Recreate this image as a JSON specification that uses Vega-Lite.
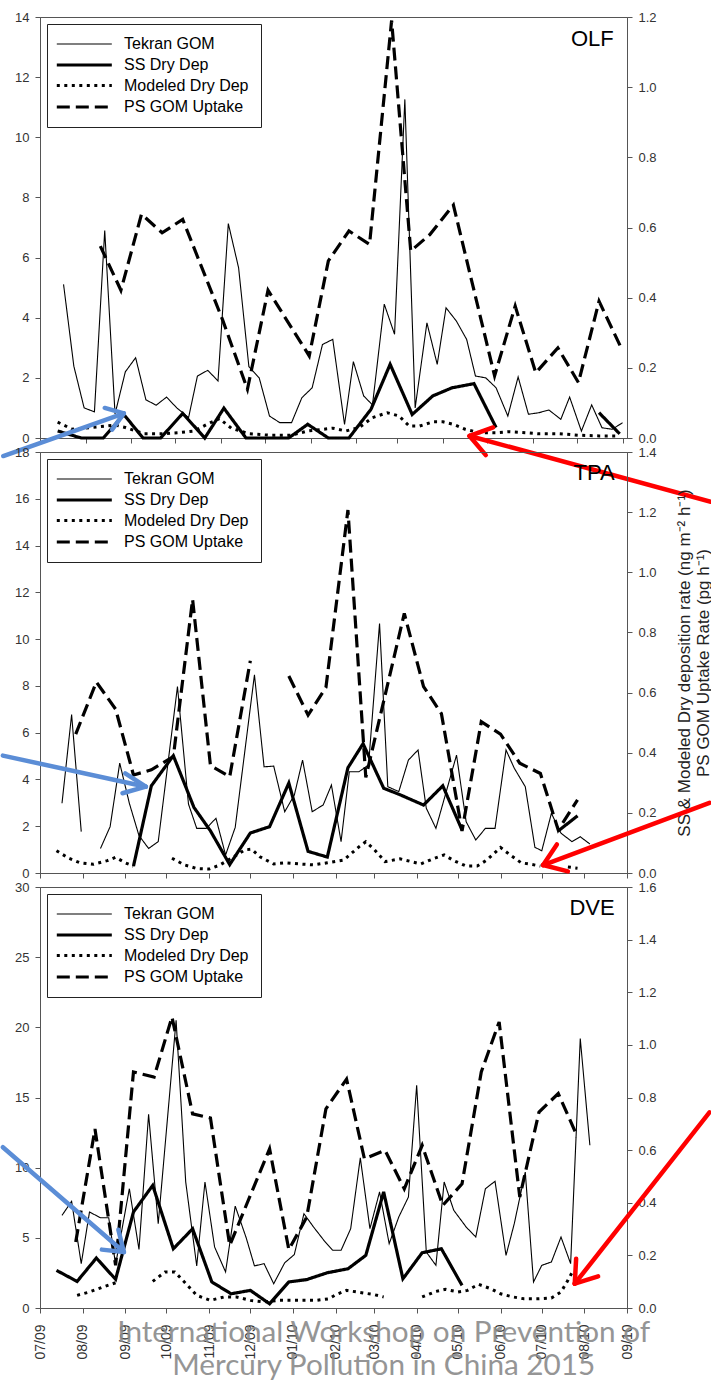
{
"$schema": "https://vega.github.io/schema/vega-lite/v6.json",
"padding": {"left": 0, "top": 10, "right": 0, "bottom": 0},
"background": "white",
"spacing": 14,
"bounds": "flush",
"config": {
  "font": "Liberation Sans",
  "view": {"stroke": "#555", "strokeWidth": 1},
  "axis": {"domainColor": "#555", "tickColor": "#555", "labelColor": "#333", "labelFont": "Liberation Sans", "labelFontSize": 13, "tickSize": 5, "labelPadding": 6, "grid": false, "labelFlush": false, "labelOverlap": false, "titleFont": "Liberation Sans", "titleColor": "#222", "titleFontWeight": "normal"}
},
"resolve": {"scale": {"x": "independent", "strokeDash": "independent", "strokeWidth": "independent", "color": "independent"}, "legend": {"strokeDash": "independent", "strokeWidth": "independent"}},
"datasets": {
"series": [
{"s":"OLF","k":"Tekran GOM","t":"2009-07-17","v":5.11,"g":1},
{"s":"OLF","k":"Tekran GOM","t":"2009-07-24","v":2.39,"g":1},
{"s":"OLF","k":"Tekran GOM","t":"2009-07-31","v":1.0,"g":1},
{"s":"OLF","k":"Tekran GOM","t":"2009-08-07","v":0.87,"g":1},
{"s":"OLF","k":"Tekran GOM","t":"2009-08-14","v":6.9,"g":1},
{"s":"OLF","k":"Tekran GOM","t":"2009-08-21","v":0.8,"g":1},
{"s":"OLF","k":"Tekran GOM","t":"2009-08-28","v":2.2,"g":1},
{"s":"OLF","k":"Tekran GOM","t":"2009-09-04","v":2.67,"g":1},
{"s":"OLF","k":"Tekran GOM","t":"2009-09-11","v":1.27,"g":1},
{"s":"OLF","k":"Tekran GOM","t":"2009-09-18","v":1.09,"g":1},
{"s":"OLF","k":"Tekran GOM","t":"2009-09-25","v":1.36,"g":1},
{"s":"OLF","k":"Tekran GOM","t":"2009-10-02","v":1.0,"g":1},
{"s":"OLF","k":"Tekran GOM","t":"2009-10-10","v":0.68,"g":1},
{"s":"OLF","k":"Tekran GOM","t":"2009-10-16","v":2.06,"g":1},
{"s":"OLF","k":"Tekran GOM","t":"2009-10-23","v":2.25,"g":1},
{"s":"OLF","k":"Tekran GOM","t":"2009-10-30","v":1.9,"g":1},
{"s":"OLF","k":"Tekran GOM","t":"2009-11-06","v":7.13,"g":1},
{"s":"OLF","k":"Tekran GOM","t":"2009-11-13","v":5.66,"g":1},
{"s":"OLF","k":"Tekran GOM","t":"2009-11-20","v":2.37,"g":1},
{"s":"OLF","k":"Tekran GOM","t":"2009-11-27","v":2.0,"g":1},
{"s":"OLF","k":"Tekran GOM","t":"2009-12-04","v":0.73,"g":1},
{"s":"OLF","k":"Tekran GOM","t":"2009-12-11","v":0.51,"g":1},
{"s":"OLF","k":"Tekran GOM","t":"2009-12-19","v":0.51,"g":1},
{"s":"OLF","k":"Tekran GOM","t":"2009-12-26","v":1.34,"g":1},
{"s":"OLF","k":"Tekran GOM","t":"2010-01-02","v":1.67,"g":1},
{"s":"OLF","k":"Tekran GOM","t":"2010-01-09","v":3.11,"g":1},
{"s":"OLF","k":"Tekran GOM","t":"2010-01-16","v":3.28,"g":1},
{"s":"OLF","k":"Tekran GOM","t":"2010-01-24","v":0.45,"g":1},
{"s":"OLF","k":"Tekran GOM","t":"2010-01-30","v":2.54,"g":1},
{"s":"OLF","k":"Tekran GOM","t":"2010-02-06","v":1.4,"g":1},
{"s":"OLF","k":"Tekran GOM","t":"2010-02-12","v":1.1,"g":1},
{"s":"OLF","k":"Tekran GOM","t":"2010-02-20","v":4.45,"g":1},
{"s":"OLF","k":"Tekran GOM","t":"2010-02-27","v":3.45,"g":1},
{"s":"OLF","k":"Tekran GOM","t":"2010-03-06","v":11.26,"g":1},
{"s":"OLF","k":"Tekran GOM","t":"2010-03-13","v":1.0,"g":1},
{"s":"OLF","k":"Tekran GOM","t":"2010-03-21","v":3.83,"g":1},
{"s":"OLF","k":"Tekran GOM","t":"2010-03-28","v":2.45,"g":1},
{"s":"OLF","k":"Tekran GOM","t":"2010-04-03","v":4.33,"g":1},
{"s":"OLF","k":"Tekran GOM","t":"2010-04-10","v":3.89,"g":1},
{"s":"OLF","k":"Tekran GOM","t":"2010-04-17","v":3.28,"g":1},
{"s":"OLF","k":"Tekran GOM","t":"2010-04-23","v":2.06,"g":1},
{"s":"OLF","k":"Tekran GOM","t":"2010-04-30","v":2.0,"g":1},
{"s":"OLF","k":"Tekran GOM","t":"2010-05-07","v":1.67,"g":1},
{"s":"OLF","k":"Tekran GOM","t":"2010-05-15","v":0.73,"g":1},
{"s":"OLF","k":"Tekran GOM","t":"2010-05-22","v":2.03,"g":1},
{"s":"OLF","k":"Tekran GOM","t":"2010-05-29","v":0.79,"g":1},
{"s":"OLF","k":"Tekran GOM","t":"2010-06-05","v":0.84,"g":1},
{"s":"OLF","k":"Tekran GOM","t":"2010-06-12","v":0.93,"g":1},
{"s":"OLF","k":"Tekran GOM","t":"2010-06-20","v":0.62,"g":1},
{"s":"OLF","k":"Tekran GOM","t":"2010-06-26","v":1.36,"g":1},
{"s":"OLF","k":"Tekran GOM","t":"2010-07-04","v":0.23,"g":1},
{"s":"OLF","k":"Tekran GOM","t":"2010-07-11","v":1.1,"g":1},
{"s":"OLF","k":"Tekran GOM","t":"2010-07-18","v":0.34,"g":1},
{"s":"OLF","k":"Tekran GOM","t":"2010-07-25","v":0.29,"g":1},
{"s":"OLF","k":"Tekran GOM","t":"2010-08-01","v":0.51,"g":1},
{"s":"OLF","k":"SS Dry Dep","t":"2009-07-13","v":0.02,"g":1},
{"s":"OLF","k":"SS Dry Dep","t":"2009-07-29","v":0,"g":1},
{"s":"OLF","k":"SS Dry Dep","t":"2009-08-13","v":0,"g":1},
{"s":"OLF","k":"SS Dry Dep","t":"2009-08-27","v":0.067,"g":1},
{"s":"OLF","k":"SS Dry Dep","t":"2009-09-09","v":0,"g":1},
{"s":"OLF","k":"SS Dry Dep","t":"2009-09-21","v":0,"g":1},
{"s":"OLF","k":"SS Dry Dep","t":"2009-10-06","v":0.07,"g":1},
{"s":"OLF","k":"SS Dry Dep","t":"2009-10-21","v":0,"g":1},
{"s":"OLF","k":"SS Dry Dep","t":"2009-11-03","v":0.085,"g":1},
{"s":"OLF","k":"SS Dry Dep","t":"2009-11-18","v":0,"g":1},
{"s":"OLF","k":"SS Dry Dep","t":"2009-12-03","v":0,"g":1},
{"s":"OLF","k":"SS Dry Dep","t":"2009-12-17","v":0,"g":1},
{"s":"OLF","k":"SS Dry Dep","t":"2009-12-30","v":0.039,"g":1},
{"s":"OLF","k":"SS Dry Dep","t":"2010-01-13","v":0,"g":1},
{"s":"OLF","k":"SS Dry Dep","t":"2010-01-27","v":0,"g":1},
{"s":"OLF","k":"SS Dry Dep","t":"2010-02-11","v":0.082,"g":1},
{"s":"OLF","k":"SS Dry Dep","t":"2010-02-24","v":0.21,"g":1},
{"s":"OLF","k":"SS Dry Dep","t":"2010-03-11","v":0.067,"g":1},
{"s":"OLF","k":"SS Dry Dep","t":"2010-03-25","v":0.12,"g":1},
{"s":"OLF","k":"SS Dry Dep","t":"2010-04-07","v":0.143,"g":1},
{"s":"OLF","k":"SS Dry Dep","t":"2010-04-22","v":0.155,"g":1},
{"s":"OLF","k":"SS Dry Dep","t":"2010-05-07","v":0.03,"g":1},
{"s":"OLF","k":"SS Dry Dep","t":"2010-07-16","v":0.072,"g":2},
{"s":"OLF","k":"SS Dry Dep","t":"2010-07-30","v":0.012,"g":2},
{"s":"OLF","k":"Modeled Dry Dep","t":"2009-07-13","v":0.045,"g":1},
{"s":"OLF","k":"Modeled Dry Dep","t":"2009-07-23","v":0.025,"g":1},
{"s":"OLF","k":"Modeled Dry Dep","t":"2009-08-05","v":0.03,"g":1},
{"s":"OLF","k":"Modeled Dry Dep","t":"2009-08-21","v":0.037,"g":1},
{"s":"OLF","k":"Modeled Dry Dep","t":"2009-08-28","v":0.03,"g":1},
{"s":"OLF","k":"Modeled Dry Dep","t":"2009-09-10","v":0.012,"g":1},
{"s":"OLF","k":"Modeled Dry Dep","t":"2009-09-22","v":0.012,"g":1},
{"s":"OLF","k":"Modeled Dry Dep","t":"2009-10-03","v":0.015,"g":1},
{"s":"OLF","k":"Modeled Dry Dep","t":"2009-10-14","v":0.02,"g":1},
{"s":"OLF","k":"Modeled Dry Dep","t":"2009-10-23","v":0.04,"g":1},
{"s":"OLF","k":"Modeled Dry Dep","t":"2009-10-31","v":0.055,"g":1},
{"s":"OLF","k":"Modeled Dry Dep","t":"2009-11-08","v":0.028,"g":1},
{"s":"OLF","k":"Modeled Dry Dep","t":"2009-11-20","v":0.012,"g":1},
{"s":"OLF","k":"Modeled Dry Dep","t":"2009-12-04","v":0.008,"g":1},
{"s":"OLF","k":"Modeled Dry Dep","t":"2009-12-19","v":0.008,"g":1},
{"s":"OLF","k":"Modeled Dry Dep","t":"2009-12-30","v":0.02,"g":1},
{"s":"OLF","k":"Modeled Dry Dep","t":"2010-01-16","v":0.028,"g":1},
{"s":"OLF","k":"Modeled Dry Dep","t":"2010-01-25","v":0.02,"g":1},
{"s":"OLF","k":"Modeled Dry Dep","t":"2010-02-03","v":0.03,"g":1},
{"s":"OLF","k":"Modeled Dry Dep","t":"2010-02-12","v":0.058,"g":1},
{"s":"OLF","k":"Modeled Dry Dep","t":"2010-02-22","v":0.072,"g":1},
{"s":"OLF","k":"Modeled Dry Dep","t":"2010-03-02","v":0.063,"g":1},
{"s":"OLF","k":"Modeled Dry Dep","t":"2010-03-09","v":0.034,"g":1},
{"s":"OLF","k":"Modeled Dry Dep","t":"2010-03-16","v":0.034,"g":1},
{"s":"OLF","k":"Modeled Dry Dep","t":"2010-03-25","v":0.046,"g":1},
{"s":"OLF","k":"Modeled Dry Dep","t":"2010-04-01","v":0.046,"g":1},
{"s":"OLF","k":"Modeled Dry Dep","t":"2010-04-08","v":0.039,"g":1},
{"s":"OLF","k":"Modeled Dry Dep","t":"2010-04-16","v":0.025,"g":1},
{"s":"OLF","k":"Modeled Dry Dep","t":"2010-04-26","v":0.015,"g":1},
{"s":"OLF","k":"Modeled Dry Dep","t":"2010-05-07","v":0.015,"g":1},
{"s":"OLF","k":"Modeled Dry Dep","t":"2010-05-16","v":0.018,"g":1},
{"s":"OLF","k":"Modeled Dry Dep","t":"2010-05-27","v":0.015,"g":1},
{"s":"OLF","k":"Modeled Dry Dep","t":"2010-06-05","v":0.012,"g":1},
{"s":"OLF","k":"Modeled Dry Dep","t":"2010-06-19","v":0.012,"g":1},
{"s":"OLF","k":"Modeled Dry Dep","t":"2010-07-02","v":0.008,"g":1},
{"s":"OLF","k":"Modeled Dry Dep","t":"2010-07-16","v":0.006,"g":1},
{"s":"OLF","k":"Modeled Dry Dep","t":"2010-07-30","v":0.006,"g":1},
{"s":"OLF","k":"PS GOM Uptake","t":"2009-08-11","v":0.547,"g":1},
{"s":"OLF","k":"PS GOM Uptake","t":"2009-08-25","v":0.421,"g":1},
{"s":"OLF","k":"PS GOM Uptake","t":"2009-09-08","v":0.638,"g":1},
{"s":"OLF","k":"PS GOM Uptake","t":"2009-09-22","v":0.585,"g":1},
{"s":"OLF","k":"PS GOM Uptake","t":"2009-10-06","v":0.623,"g":1},
{"s":"OLF","k":"PS GOM Uptake","t":"2009-11-02","v":0.338,"g":1},
{"s":"OLF","k":"PS GOM Uptake","t":"2009-11-19","v":0.139,"g":1},
{"s":"OLF","k":"PS GOM Uptake","t":"2009-12-03","v":0.421,"g":1},
{"s":"OLF","k":"PS GOM Uptake","t":"2009-12-31","v":0.234,"g":1},
{"s":"OLF","k":"PS GOM Uptake","t":"2010-01-13","v":0.505,"g":1},
{"s":"OLF","k":"PS GOM Uptake","t":"2010-01-27","v":0.59,"g":1},
{"s":"OLF","k":"PS GOM Uptake","t":"2010-02-10","v":0.552,"g":1},
{"s":"OLF","k":"PS GOM Uptake","t":"2010-02-25","v":1.19,"g":1},
{"s":"OLF","k":"PS GOM Uptake","t":"2010-03-10","v":0.533,"g":1},
{"s":"OLF","k":"PS GOM Uptake","t":"2010-03-23","v":0.58,"g":1},
{"s":"OLF","k":"PS GOM Uptake","t":"2010-04-08","v":0.664,"g":1},
{"s":"OLF","k":"PS GOM Uptake","t":"2010-05-06","v":0.177,"g":1},
{"s":"OLF","k":"PS GOM Uptake","t":"2010-05-20","v":0.376,"g":1},
{"s":"OLF","k":"PS GOM Uptake","t":"2010-06-03","v":0.186,"g":1},
{"s":"OLF","k":"PS GOM Uptake","t":"2010-06-18","v":0.257,"g":1},
{"s":"OLF","k":"PS GOM Uptake","t":"2010-07-02","v":0.158,"g":1},
{"s":"OLF","k":"PS GOM Uptake","t":"2010-07-16","v":0.39,"g":1},
{"s":"OLF","k":"PS GOM Uptake","t":"2010-07-31","v":0.257,"g":1},
{"s":"TPA","k":"Tekran GOM","t":"2009-07-17","v":2.98,"g":1},
{"s":"TPA","k":"Tekran GOM","t":"2009-07-24","v":6.77,"g":1},
{"s":"TPA","k":"Tekran GOM","t":"2009-07-31","v":1.77,"g":1},
{"s":"TPA","k":"Tekran GOM","t":"2009-08-14","v":1.05,"g":2},
{"s":"TPA","k":"Tekran GOM","t":"2009-08-21","v":1.98,"g":2},
{"s":"TPA","k":"Tekran GOM","t":"2009-08-28","v":4.7,"g":2},
{"s":"TPA","k":"Tekran GOM","t":"2009-09-04","v":2.98,"g":2},
{"s":"TPA","k":"Tekran GOM","t":"2009-09-11","v":1.6,"g":2},
{"s":"TPA","k":"Tekran GOM","t":"2009-09-18","v":1.05,"g":2},
{"s":"TPA","k":"Tekran GOM","t":"2009-09-25","v":1.34,"g":2},
{"s":"TPA","k":"Tekran GOM","t":"2009-10-09","v":7.97,"g":2},
{"s":"TPA","k":"Tekran GOM","t":"2009-10-17","v":2.95,"g":2},
{"s":"TPA","k":"Tekran GOM","t":"2009-10-23","v":1.91,"g":2},
{"s":"TPA","k":"Tekran GOM","t":"2009-10-30","v":1.91,"g":2},
{"s":"TPA","k":"Tekran GOM","t":"2009-11-06","v":2.34,"g":2},
{"s":"TPA","k":"Tekran GOM","t":"2009-11-13","v":0.77,"g":2},
{"s":"TPA","k":"Tekran GOM","t":"2009-11-20","v":1.95,"g":2},
{"s":"TPA","k":"Tekran GOM","t":"2009-12-04","v":8.47,"g":2},
{"s":"TPA","k":"Tekran GOM","t":"2009-12-11","v":4.54,"g":2},
{"s":"TPA","k":"Tekran GOM","t":"2009-12-18","v":4.57,"g":2},
{"s":"TPA","k":"Tekran GOM","t":"2009-12-26","v":2.62,"g":2},
{"s":"TPA","k":"Tekran GOM","t":"2010-01-02","v":3.33,"g":2},
{"s":"TPA","k":"Tekran GOM","t":"2010-01-08","v":4.83,"g":2},
{"s":"TPA","k":"Tekran GOM","t":"2010-01-15","v":2.62,"g":2},
{"s":"TPA","k":"Tekran GOM","t":"2010-01-23","v":2.91,"g":2},
{"s":"TPA","k":"Tekran GOM","t":"2010-01-29","v":3.76,"g":2},
{"s":"TPA","k":"Tekran GOM","t":"2010-02-05","v":1.34,"g":2},
{"s":"TPA","k":"Tekran GOM","t":"2010-02-11","v":4.33,"g":2},
{"s":"TPA","k":"Tekran GOM","t":"2010-02-18","v":4.33,"g":2},
{"s":"TPA","k":"Tekran GOM","t":"2010-02-25","v":4.62,"g":2},
{"s":"TPA","k":"Tekran GOM","t":"2010-03-05","v":10.67,"g":2},
{"s":"TPA","k":"Tekran GOM","t":"2010-03-11","v":3.69,"g":2},
{"s":"TPA","k":"Tekran GOM","t":"2010-03-19","v":3.48,"g":2},
{"s":"TPA","k":"Tekran GOM","t":"2010-03-26","v":4.83,"g":2},
{"s":"TPA","k":"Tekran GOM","t":"2010-04-02","v":5.26,"g":2},
{"s":"TPA","k":"Tekran GOM","t":"2010-04-08","v":2.77,"g":2},
{"s":"TPA","k":"Tekran GOM","t":"2010-04-15","v":1.91,"g":2},
{"s":"TPA","k":"Tekran GOM","t":"2010-04-30","v":5.04,"g":2},
{"s":"TPA","k":"Tekran GOM","t":"2010-05-07","v":2.19,"g":2},
{"s":"TPA","k":"Tekran GOM","t":"2010-05-14","v":1.41,"g":2},
{"s":"TPA","k":"Tekran GOM","t":"2010-05-21","v":1.91,"g":2},
{"s":"TPA","k":"Tekran GOM","t":"2010-05-28","v":1.91,"g":2},
{"s":"TPA","k":"Tekran GOM","t":"2010-06-05","v":5.26,"g":2},
{"s":"TPA","k":"Tekran GOM","t":"2010-06-11","v":4.48,"g":2},
{"s":"TPA","k":"Tekran GOM","t":"2010-06-19","v":3.69,"g":2},
{"s":"TPA","k":"Tekran GOM","t":"2010-06-26","v":1.1,"g":2},
{"s":"TPA","k":"Tekran GOM","t":"2010-07-01","v":0.95,"g":2},
{"s":"TPA","k":"Tekran GOM","t":"2010-07-08","v":2.55,"g":2},
{"s":"TPA","k":"Tekran GOM","t":"2010-07-15","v":1.7,"g":2},
{"s":"TPA","k":"Tekran GOM","t":"2010-07-23","v":1.34,"g":2},
{"s":"TPA","k":"Tekran GOM","t":"2010-07-29","v":1.55,"g":2},
{"s":"TPA","k":"Tekran GOM","t":"2010-08-05","v":1.24,"g":2},
{"s":"TPA","k":"SS Dry Dep","t":"2009-09-07","v":0.023,"g":1},
{"s":"TPA","k":"SS Dry Dep","t":"2009-09-20","v":0.29,"g":1},
{"s":"TPA","k":"SS Dry Dep","t":"2009-10-06","v":0.39,"g":1},
{"s":"TPA","k":"SS Dry Dep","t":"2009-10-21","v":0.218,"g":1},
{"s":"TPA","k":"SS Dry Dep","t":"2009-11-02","v":0.14,"g":1},
{"s":"TPA","k":"SS Dry Dep","t":"2009-11-16","v":0.028,"g":1},
{"s":"TPA","k":"SS Dry Dep","t":"2009-12-01","v":0.133,"g":1},
{"s":"TPA","k":"SS Dry Dep","t":"2009-12-15","v":0.154,"g":1},
{"s":"TPA","k":"SS Dry Dep","t":"2009-12-29","v":0.299,"g":1},
{"s":"TPA","k":"SS Dry Dep","t":"2010-01-12","v":0.072,"g":1},
{"s":"TPA","k":"SS Dry Dep","t":"2010-01-26","v":0.053,"g":1},
{"s":"TPA","k":"SS Dry Dep","t":"2010-02-10","v":0.35,"g":1},
{"s":"TPA","k":"SS Dry Dep","t":"2010-02-21","v":0.43,"g":1},
{"s":"TPA","k":"SS Dry Dep","t":"2010-03-08","v":0.282,"g":1},
{"s":"TPA","k":"SS Dry Dep","t":"2010-03-20","v":0.26,"g":1},
{"s":"TPA","k":"SS Dry Dep","t":"2010-04-06","v":0.226,"g":1},
{"s":"TPA","k":"SS Dry Dep","t":"2010-04-20","v":0.29,"g":1},
{"s":"TPA","k":"SS Dry Dep","t":"2010-05-04","v":0.143,"g":1},
{"s":"TPA","k":"SS Dry Dep","t":"2010-07-13","v":0.14,"g":2},
{"s":"TPA","k":"SS Dry Dep","t":"2010-07-27","v":0.19,"g":2},
{"s":"TPA","k":"Modeled Dry Dep","t":"2009-07-13","v":0.074,"g":1},
{"s":"TPA","k":"Modeled Dry Dep","t":"2009-07-22","v":0.049,"g":1},
{"s":"TPA","k":"Modeled Dry Dep","t":"2009-07-30","v":0.034,"g":1},
{"s":"TPA","k":"Modeled Dry Dep","t":"2009-08-09","v":0.029,"g":1},
{"s":"TPA","k":"Modeled Dry Dep","t":"2009-08-19","v":0.041,"g":1},
{"s":"TPA","k":"Modeled Dry Dep","t":"2009-08-25","v":0.052,"g":1},
{"s":"TPA","k":"Modeled Dry Dep","t":"2009-09-01","v":0.034,"g":1},
{"s":"TPA","k":"Modeled Dry Dep","t":"2009-09-07","v":0.023,"g":1},
{"s":"TPA","k":"Modeled Dry Dep","t":"2009-10-05","v":0.049,"g":2},
{"s":"TPA","k":"Modeled Dry Dep","t":"2009-10-14","v":0.027,"g":2},
{"s":"TPA","k":"Modeled Dry Dep","t":"2009-10-23","v":0.015,"g":2},
{"s":"TPA","k":"Modeled Dry Dep","t":"2009-11-01","v":0.013,"g":2},
{"s":"TPA","k":"Modeled Dry Dep","t":"2009-11-09","v":0.027,"g":2},
{"s":"TPA","k":"Modeled Dry Dep","t":"2009-11-19","v":0.054,"g":2},
{"s":"TPA","k":"Modeled Dry Dep","t":"2009-11-27","v":0.077,"g":2},
{"s":"TPA","k":"Modeled Dry Dep","t":"2009-12-02","v":0.079,"g":2},
{"s":"TPA","k":"Modeled Dry Dep","t":"2009-12-08","v":0.054,"g":2},
{"s":"TPA","k":"Modeled Dry Dep","t":"2009-12-18","v":0.03,"g":2},
{"s":"TPA","k":"Modeled Dry Dep","t":"2009-12-27","v":0.034,"g":2},
{"s":"TPA","k":"Modeled Dry Dep","t":"2010-01-06","v":0.03,"g":2},
{"s":"TPA","k":"Modeled Dry Dep","t":"2010-01-16","v":0.027,"g":2},
{"s":"TPA","k":"Modeled Dry Dep","t":"2010-01-26","v":0.034,"g":2},
{"s":"TPA","k":"Modeled Dry Dep","t":"2010-02-07","v":0.043,"g":2},
{"s":"TPA","k":"Modeled Dry Dep","t":"2010-02-18","v":0.087,"g":2},
{"s":"TPA","k":"Modeled Dry Dep","t":"2010-02-23","v":0.104,"g":2},
{"s":"TPA","k":"Modeled Dry Dep","t":"2010-03-01","v":0.079,"g":2},
{"s":"TPA","k":"Modeled Dry Dep","t":"2010-03-09","v":0.038,"g":2},
{"s":"TPA","k":"Modeled Dry Dep","t":"2010-03-20","v":0.047,"g":2},
{"s":"TPA","k":"Modeled Dry Dep","t":"2010-04-04","v":0.03,"g":2},
{"s":"TPA","k":"Modeled Dry Dep","t":"2010-04-14","v":0.049,"g":2},
{"s":"TPA","k":"Modeled Dry Dep","t":"2010-04-21","v":0.06,"g":2},
{"s":"TPA","k":"Modeled Dry Dep","t":"2010-04-28","v":0.041,"g":2},
{"s":"TPA","k":"Modeled Dry Dep","t":"2010-05-07","v":0.023,"g":2},
{"s":"TPA","k":"Modeled Dry Dep","t":"2010-05-15","v":0.023,"g":2},
{"s":"TPA","k":"Modeled Dry Dep","t":"2010-05-22","v":0.043,"g":2},
{"s":"TPA","k":"Modeled Dry Dep","t":"2010-06-01","v":0.085,"g":2},
{"s":"TPA","k":"Modeled Dry Dep","t":"2010-06-08","v":0.06,"g":2},
{"s":"TPA","k":"Modeled Dry Dep","t":"2010-06-16","v":0.034,"g":2},
{"s":"TPA","k":"Modeled Dry Dep","t":"2010-06-23","v":0.029,"g":2},
{"s":"TPA","k":"Modeled Dry Dep","t":"2010-06-30","v":0.023,"g":2},
{"s":"TPA","k":"Modeled Dry Dep","t":"2010-07-20","v":0.02,"g":3},
{"s":"TPA","k":"Modeled Dry Dep","t":"2010-07-27","v":0.016,"g":3},
{"s":"TPA","k":"PS GOM Uptake","t":"2009-07-27","v":0.462,"g":1},
{"s":"TPA","k":"PS GOM Uptake","t":"2009-08-11","v":0.635,"g":1},
{"s":"TPA","k":"PS GOM Uptake","t":"2009-08-25","v":0.545,"g":1},
{"s":"TPA","k":"PS GOM Uptake","t":"2009-09-07","v":0.326,"g":1},
{"s":"TPA","k":"PS GOM Uptake","t":"2009-09-20","v":0.343,"g":1},
{"s":"TPA","k":"PS GOM Uptake","t":"2009-10-06","v":0.387,"g":1},
{"s":"TPA","k":"PS GOM Uptake","t":"2009-10-20","v":0.91,"g":1},
{"s":"TPA","k":"PS GOM Uptake","t":"2009-11-02","v":0.357,"g":1},
{"s":"TPA","k":"PS GOM Uptake","t":"2009-11-16","v":0.32,"g":1},
{"s":"TPA","k":"PS GOM Uptake","t":"2009-12-01","v":0.706,"g":1},
{"s":"TPA","k":"PS GOM Uptake","t":"2009-12-29","v":0.655,"g":2},
{"s":"TPA","k":"PS GOM Uptake","t":"2010-01-12","v":0.525,"g":2},
{"s":"TPA","k":"PS GOM Uptake","t":"2010-01-25","v":0.617,"g":2},
{"s":"TPA","k":"PS GOM Uptake","t":"2010-02-10","v":1.207,"g":2},
{"s":"TPA","k":"PS GOM Uptake","t":"2010-02-23","v":0.318,"g":2},
{"s":"TPA","k":"PS GOM Uptake","t":"2010-03-23","v":0.863,"g":2},
{"s":"TPA","k":"PS GOM Uptake","t":"2010-04-06","v":0.62,"g":2},
{"s":"TPA","k":"PS GOM Uptake","t":"2010-04-19","v":0.53,"g":2},
{"s":"TPA","k":"PS GOM Uptake","t":"2010-05-04","v":0.14,"g":2},
{"s":"TPA","k":"PS GOM Uptake","t":"2010-05-18","v":0.503,"g":2},
{"s":"TPA","k":"PS GOM Uptake","t":"2010-06-01","v":0.462,"g":2},
{"s":"TPA","k":"PS GOM Uptake","t":"2010-06-15","v":0.365,"g":2},
{"s":"TPA","k":"PS GOM Uptake","t":"2010-06-30","v":0.331,"g":2},
{"s":"TPA","k":"PS GOM Uptake","t":"2010-07-13","v":0.143,"g":2},
{"s":"TPA","k":"PS GOM Uptake","t":"2010-07-27","v":0.243,"g":2},
{"s":"DVE","k":"Tekran GOM","t":"2009-07-17","v":6.6,"g":1},
{"s":"DVE","k":"Tekran GOM","t":"2009-07-24","v":7.6,"g":1},
{"s":"DVE","k":"Tekran GOM","t":"2009-07-31","v":3.16,"g":1},
{"s":"DVE","k":"Tekran GOM","t":"2009-08-06","v":6.84,"g":1},
{"s":"DVE","k":"Tekran GOM","t":"2009-08-14","v":6.43,"g":1},
{"s":"DVE","k":"Tekran GOM","t":"2009-08-20","v":6.43,"g":1},
{"s":"DVE","k":"Tekran GOM","t":"2009-08-25","v":3.1,"g":1},
{"s":"DVE","k":"Tekran GOM","t":"2009-09-04","v":8.5,"g":1},
{"s":"DVE","k":"Tekran GOM","t":"2009-09-11","v":4.17,"g":1},
{"s":"DVE","k":"Tekran GOM","t":"2009-09-18","v":13.8,"g":1},
{"s":"DVE","k":"Tekran GOM","t":"2009-09-25","v":6.0,"g":1},
{"s":"DVE","k":"Tekran GOM","t":"2009-10-08","v":20.5,"g":1},
{"s":"DVE","k":"Tekran GOM","t":"2009-10-15","v":8.98,"g":1},
{"s":"DVE","k":"Tekran GOM","t":"2009-10-23","v":3.0,"g":1},
{"s":"DVE","k":"Tekran GOM","t":"2009-10-29","v":8.98,"g":1},
{"s":"DVE","k":"Tekran GOM","t":"2009-11-05","v":4.35,"g":1},
{"s":"DVE","k":"Tekran GOM","t":"2009-11-13","v":2.57,"g":1},
{"s":"DVE","k":"Tekran GOM","t":"2009-11-20","v":7.26,"g":1},
{"s":"DVE","k":"Tekran GOM","t":"2009-11-28","v":5.0,"g":1},
{"s":"DVE","k":"Tekran GOM","t":"2009-12-04","v":3.0,"g":1},
{"s":"DVE","k":"Tekran GOM","t":"2009-12-11","v":3.16,"g":1},
{"s":"DVE","k":"Tekran GOM","t":"2009-12-18","v":1.73,"g":1},
{"s":"DVE","k":"Tekran GOM","t":"2009-12-26","v":3.22,"g":1},
{"s":"DVE","k":"Tekran GOM","t":"2010-01-02","v":3.81,"g":1},
{"s":"DVE","k":"Tekran GOM","t":"2010-01-09","v":6.72,"g":1},
{"s":"DVE","k":"Tekran GOM","t":"2010-01-16","v":5.77,"g":1},
{"s":"DVE","k":"Tekran GOM","t":"2010-01-24","v":4.76,"g":1},
{"s":"DVE","k":"Tekran GOM","t":"2010-01-30","v":4.11,"g":1},
{"s":"DVE","k":"Tekran GOM","t":"2010-02-05","v":4.11,"g":1},
{"s":"DVE","k":"Tekran GOM","t":"2010-02-12","v":5.65,"g":1},
{"s":"DVE","k":"Tekran GOM","t":"2010-02-19","v":10.7,"g":1},
{"s":"DVE","k":"Tekran GOM","t":"2010-02-26","v":5.65,"g":1},
{"s":"DVE","k":"Tekran GOM","t":"2010-03-05","v":8.27,"g":1},
{"s":"DVE","k":"Tekran GOM","t":"2010-03-12","v":4.58,"g":1},
{"s":"DVE","k":"Tekran GOM","t":"2010-03-19","v":6.49,"g":1},
{"s":"DVE","k":"Tekran GOM","t":"2010-03-26","v":7.91,"g":1},
{"s":"DVE","k":"Tekran GOM","t":"2010-04-01","v":15.87,"g":1},
{"s":"DVE","k":"Tekran GOM","t":"2010-04-08","v":3.99,"g":1},
{"s":"DVE","k":"Tekran GOM","t":"2010-04-15","v":3.04,"g":1},
{"s":"DVE","k":"Tekran GOM","t":"2010-04-21","v":8.98,"g":1},
{"s":"DVE","k":"Tekran GOM","t":"2010-04-28","v":6.96,"g":1},
{"s":"DVE","k":"Tekran GOM","t":"2010-05-07","v":5.77,"g":1},
{"s":"DVE","k":"Tekran GOM","t":"2010-05-14","v":5.06,"g":1},
{"s":"DVE","k":"Tekran GOM","t":"2010-05-21","v":8.5,"g":1},
{"s":"DVE","k":"Tekran GOM","t":"2010-05-28","v":9.03,"g":1},
{"s":"DVE","k":"Tekran GOM","t":"2010-06-05","v":3.75,"g":1},
{"s":"DVE","k":"Tekran GOM","t":"2010-06-11","v":6.01,"g":1},
{"s":"DVE","k":"Tekran GOM","t":"2010-06-19","v":9.69,"g":1},
{"s":"DVE","k":"Tekran GOM","t":"2010-06-25","v":1.85,"g":1},
{"s":"DVE","k":"Tekran GOM","t":"2010-07-01","v":3.04,"g":1},
{"s":"DVE","k":"Tekran GOM","t":"2010-07-08","v":3.28,"g":1},
{"s":"DVE","k":"Tekran GOM","t":"2010-07-15","v":5.06,"g":1},
{"s":"DVE","k":"Tekran GOM","t":"2010-07-22","v":3.16,"g":1},
{"s":"DVE","k":"Tekran GOM","t":"2010-07-29","v":19.2,"g":1},
{"s":"DVE","k":"Tekran GOM","t":"2010-08-05","v":11.6,"g":1},
{"s":"DVE","k":"SS Dry Dep","t":"2009-07-13","v":0.143,"g":1},
{"s":"DVE","k":"SS Dry Dep","t":"2009-07-28","v":0.101,"g":1},
{"s":"DVE","k":"SS Dry Dep","t":"2009-08-11","v":0.19,"g":1},
{"s":"DVE","k":"SS Dry Dep","t":"2009-08-25","v":0.109,"g":1},
{"s":"DVE","k":"SS Dry Dep","t":"2009-09-07","v":0.365,"g":1},
{"s":"DVE","k":"SS Dry Dep","t":"2009-09-21","v":0.466,"g":1},
{"s":"DVE","k":"SS Dry Dep","t":"2009-10-06","v":0.225,"g":1},
{"s":"DVE","k":"SS Dry Dep","t":"2009-10-20","v":0.301,"g":1},
{"s":"DVE","k":"SS Dry Dep","t":"2009-11-03","v":0.099,"g":1},
{"s":"DVE","k":"SS Dry Dep","t":"2009-11-17","v":0.054,"g":1},
{"s":"DVE","k":"SS Dry Dep","t":"2009-12-01","v":0.067,"g":1},
{"s":"DVE","k":"SS Dry Dep","t":"2009-12-15","v":0.016,"g":1},
{"s":"DVE","k":"SS Dry Dep","t":"2009-12-29","v":0.099,"g":1},
{"s":"DVE","k":"SS Dry Dep","t":"2010-01-11","v":0.108,"g":1},
{"s":"DVE","k":"SS Dry Dep","t":"2010-01-26","v":0.134,"g":1},
{"s":"DVE","k":"SS Dry Dep","t":"2010-02-10","v":0.149,"g":1},
{"s":"DVE","k":"SS Dry Dep","t":"2010-02-23","v":0.2,"g":1},
{"s":"DVE","k":"SS Dry Dep","t":"2010-03-08","v":0.441,"g":1},
{"s":"DVE","k":"SS Dry Dep","t":"2010-03-22","v":0.111,"g":1},
{"s":"DVE","k":"SS Dry Dep","t":"2010-04-05","v":0.21,"g":1},
{"s":"DVE","k":"SS Dry Dep","t":"2010-04-19","v":0.225,"g":1},
{"s":"DVE","k":"SS Dry Dep","t":"2010-05-04","v":0.086,"g":1},
{"s":"DVE","k":"Modeled Dry Dep","t":"2009-07-28","v":0.048,"g":1},
{"s":"DVE","k":"Modeled Dry Dep","t":"2009-08-06","v":0.061,"g":1},
{"s":"DVE","k":"Modeled Dry Dep","t":"2009-08-16","v":0.08,"g":1},
{"s":"DVE","k":"Modeled Dry Dep","t":"2009-08-25","v":0.096,"g":1},
{"s":"DVE","k":"Modeled Dry Dep","t":"2009-09-21","v":0.101,"g":2},
{"s":"DVE","k":"Modeled Dry Dep","t":"2009-09-30","v":0.137,"g":2},
{"s":"DVE","k":"Modeled Dry Dep","t":"2009-10-07","v":0.137,"g":2},
{"s":"DVE","k":"Modeled Dry Dep","t":"2009-10-14","v":0.099,"g":2},
{"s":"DVE","k":"Modeled Dry Dep","t":"2009-10-23","v":0.048,"g":2},
{"s":"DVE","k":"Modeled Dry Dep","t":"2009-11-02","v":0.029,"g":2},
{"s":"DVE","k":"Modeled Dry Dep","t":"2009-11-12","v":0.042,"g":2},
{"s":"DVE","k":"Modeled Dry Dep","t":"2009-11-21","v":0.042,"g":2},
{"s":"DVE","k":"Modeled Dry Dep","t":"2009-12-01","v":0.029,"g":2},
{"s":"DVE","k":"Modeled Dry Dep","t":"2009-12-11","v":0.023,"g":2},
{"s":"DVE","k":"Modeled Dry Dep","t":"2009-12-21","v":0.029,"g":2},
{"s":"DVE","k":"Modeled Dry Dep","t":"2009-12-30","v":0.029,"g":2},
{"s":"DVE","k":"Modeled Dry Dep","t":"2010-01-09","v":0.029,"g":2},
{"s":"DVE","k":"Modeled Dry Dep","t":"2010-01-18","v":0.029,"g":2},
{"s":"DVE","k":"Modeled Dry Dep","t":"2010-01-27","v":0.035,"g":2},
{"s":"DVE","k":"Modeled Dry Dep","t":"2010-02-01","v":0.05,"g":2},
{"s":"DVE","k":"Modeled Dry Dep","t":"2010-02-09","v":0.067,"g":2},
{"s":"DVE","k":"Modeled Dry Dep","t":"2010-02-20","v":0.058,"g":2},
{"s":"DVE","k":"Modeled Dry Dep","t":"2010-03-01","v":0.051,"g":2},
{"s":"DVE","k":"Modeled Dry Dep","t":"2010-03-08","v":0.042,"g":2},
{"s":"DVE","k":"Modeled Dry Dep","t":"2010-04-05","v":0.042,"g":3},
{"s":"DVE","k":"Modeled Dry Dep","t":"2010-04-15","v":0.063,"g":3},
{"s":"DVE","k":"Modeled Dry Dep","t":"2010-04-22","v":0.071,"g":3},
{"s":"DVE","k":"Modeled Dry Dep","t":"2010-05-01","v":0.061,"g":3},
{"s":"DVE","k":"Modeled Dry Dep","t":"2010-05-08","v":0.067,"g":3},
{"s":"DVE","k":"Modeled Dry Dep","t":"2010-05-16","v":0.09,"g":3},
{"s":"DVE","k":"Modeled Dry Dep","t":"2010-05-25","v":0.073,"g":3},
{"s":"DVE","k":"Modeled Dry Dep","t":"2010-06-01","v":0.054,"g":3},
{"s":"DVE","k":"Modeled Dry Dep","t":"2010-06-10","v":0.042,"g":3},
{"s":"DVE","k":"Modeled Dry Dep","t":"2010-06-18","v":0.035,"g":3},
{"s":"DVE","k":"Modeled Dry Dep","t":"2010-06-28","v":0.035,"g":3},
{"s":"DVE","k":"Modeled Dry Dep","t":"2010-07-08","v":0.038,"g":3},
{"s":"DVE","k":"Modeled Dry Dep","t":"2010-07-15","v":0.061,"g":3},
{"s":"DVE","k":"Modeled Dry Dep","t":"2010-07-20","v":0.105,"g":3},
{"s":"DVE","k":"Modeled Dry Dep","t":"2010-07-24","v":0.145,"g":3},
{"s":"DVE","k":"PS GOM Uptake","t":"2009-07-27","v":0.251,"g":1},
{"s":"DVE","k":"PS GOM Uptake","t":"2009-08-10","v":0.68,"g":1},
{"s":"DVE","k":"PS GOM Uptake","t":"2009-08-25","v":0.162,"g":1},
{"s":"DVE","k":"PS GOM Uptake","t":"2009-09-07","v":0.897,"g":1},
{"s":"DVE","k":"PS GOM Uptake","t":"2009-09-22","v":0.878,"g":1},
{"s":"DVE","k":"PS GOM Uptake","t":"2009-10-05","v":1.106,"g":1},
{"s":"DVE","k":"PS GOM Uptake","t":"2009-10-20","v":0.738,"g":1},
{"s":"DVE","k":"PS GOM Uptake","t":"2009-11-02","v":0.722,"g":1},
{"s":"DVE","k":"PS GOM Uptake","t":"2009-11-16","v":0.238,"g":1},
{"s":"DVE","k":"PS GOM Uptake","t":"2009-12-15","v":0.605,"g":1},
{"s":"DVE","k":"PS GOM Uptake","t":"2009-12-29","v":0.222,"g":1},
{"s":"DVE","k":"PS GOM Uptake","t":"2010-01-11","v":0.345,"g":1},
{"s":"DVE","k":"PS GOM Uptake","t":"2010-01-25","v":0.757,"g":1},
{"s":"DVE","k":"PS GOM Uptake","t":"2010-02-09","v":0.87,"g":1},
{"s":"DVE","k":"PS GOM Uptake","t":"2010-02-22","v":0.567,"g":1},
{"s":"DVE","k":"PS GOM Uptake","t":"2010-03-09","v":0.599,"g":1},
{"s":"DVE","k":"PS GOM Uptake","t":"2010-03-23","v":0.453,"g":1},
{"s":"DVE","k":"PS GOM Uptake","t":"2010-04-05","v":0.618,"g":1},
{"s":"DVE","k":"PS GOM Uptake","t":"2010-04-20","v":0.39,"g":1},
{"s":"DVE","k":"PS GOM Uptake","t":"2010-05-04","v":0.472,"g":1},
{"s":"DVE","k":"PS GOM Uptake","t":"2010-05-18","v":0.897,"g":1},
{"s":"DVE","k":"PS GOM Uptake","t":"2010-05-31","v":1.087,"g":1},
{"s":"DVE","k":"PS GOM Uptake","t":"2010-06-15","v":0.422,"g":1},
{"s":"DVE","k":"PS GOM Uptake","t":"2010-06-29","v":0.745,"g":1},
{"s":"DVE","k":"PS GOM Uptake","t":"2010-07-13","v":0.815,"g":1},
{"s":"DVE","k":"PS GOM Uptake","t":"2010-07-27","v":0.65,"g":1}
],
"arrows": [
{"s":"OLF","side":"left","t":"2009-06-06","v":-0.6,"t2":"2009-08-27","v2":0.82},
{"s":"OLF","side":"left","t":"2009-08-27","v":0.82,"t2":"2009-08-14","v2":1.0},
{"s":"OLF","side":"left","t":"2009-08-27","v":0.82,"t2":"2009-08-19","v2":0.28},
{"s":"OLF","side":"right","t":"2010-09-30","v":-2.12,"t2":"2010-04-19","v2":0.067},
{"s":"OLF","side":"right","t":"2010-04-19","v":0.067,"t2":"2010-04-30","v2":-0.57},
{"s":"OLF","side":"right","t":"2010-04-19","v":0.067,"t2":"2010-05-05","v2":0.35},
{"s":"TPA","side":"left","t":"2009-06-04","v":5.02,"t2":"2009-09-16","v2":3.69},
{"s":"TPA","side":"left","t":"2009-09-16","v":3.69,"t2":"2009-09-01","v2":4.26},
{"s":"TPA","side":"left","t":"2009-09-16","v":3.69,"t2":"2009-08-30","v2":3.41},
{"s":"TPA","side":"right","t":"2010-10-31","v":3.0,"t2":"2010-07-02","v2":0.34},
{"s":"TPA","side":"right","t":"2010-07-02","v":0.34,"t2":"2010-07-20","v2":0.07},
{"s":"TPA","side":"right","t":"2010-07-02","v":0.34,"t2":"2010-07-12","v2":1.22},
{"s":"DVE","side":"left","t":"2009-06-04","v":11.46,"t2":"2009-08-31","v2":3.99},
{"s":"DVE","side":"left","t":"2009-08-31","v":3.99,"t2":"2009-08-27","v2":5.58},
{"s":"DVE","side":"left","t":"2009-08-31","v":3.99,"t2":"2009-08-15","v2":4.16},
{"s":"DVE","side":"right","t":"2010-10-31","v":13.94,"t2":"2010-07-25","v2":1.73},
{"s":"DVE","side":"right","t":"2010-07-25","v":1.73,"t2":"2010-08-11","v2":2.25},
{"s":"DVE","side":"right","t":"2010-07-25","v":1.73,"t2":"2010-07-26","v2":3.51}
],
"labels": [
{"s":"OLF","kind":"site","txt":"OLF","t":"2010-07-26","v":13.04},
{"s":"TPA","kind":"site","txt":"TPA","t":"2010-08-23","v":16.8},
{"s":"DVE","kind":"site","txt":"DVE","t":"2010-08-23","v":28.0},
{"s":"DVE","kind":"mark","txt":"International Workshop on Prevention of","t":"2010-03-08","v":-2.42},
{"s":"DVE","kind":"mark","txt":"Mercury Pollution in China 2015","t":"2010-03-08","v":-4.78}
]
},
"vconcat": [
{
 "width": 587, "height": 421,
 "resolve": {"scale": {"y": "independent"}},
 "layer": [
  {"data": {"name": "series"},
   "transform": [{"filter": "datum.s === 'OLF' && datum.k === 'Tekran GOM'"}],
   "mark": {"type": "line", "color": "black"},
   "encoding": {
    "x": {"field": "t", "type": "temporal", "scale": {"domain": ["2009-07-01", "2010-08-04"]}, "axis": {"title": null, "labels": false, "ticks": true, "domain": true, "tickCount": {"interval": "month", "step": 1}}},
    "y": {"field": "v", "type": "quantitative", "scale": {"domain": [0, 14]}, "axis": {"orient": "left", "title": null, "values": [0,2,4,6,8,10,12,14], "format": "d"}},
    "strokeDash": {"field": "k", "type": "nominal", "scale": {"domain": ["Tekran GOM","SS Dry Dep","Modeled Dry Dep","PS GOM Uptake"], "range": [[1,0],[1,0],[3,4.5],[13,6]]}, "legend": {"title": null, "orient": "top-left", "offset": 7, "padding": 12, "strokeColor": "#222", "fillColor": "white", "labelFontSize": 16, "labelColor": "black", "rowPadding": 4, "symbolSize": 196, "symbolType": "M-1.6,0H6.26", "labelOffset": 47, "symbolStrokeColor": "black"}},
    "strokeWidth": {"field": "k", "type": "nominal", "scale": {"type": "ordinal", "domain": ["Tekran GOM","SS Dry Dep","Modeled Dry Dep","PS GOM Uptake"], "range": [1.1,3.2,3,3.2]}, "legend": {"title": null, "orient": "top-left", "offset": 7, "padding": 12, "strokeColor": "#222", "fillColor": "white", "labelFontSize": 16, "labelColor": "black", "rowPadding": 4, "symbolSize": 196, "symbolType": "M-1.6,0H6.26", "labelOffset": 47, "symbolStrokeColor": "black"}},
    "detail": {"field": "g", "type": "nominal"}
   }},
  {"data": {"name": "series"},
   "transform": [{"filter": "datum.s === 'OLF' && datum.k !== 'Tekran GOM'"}],
   "mark": {"type": "line", "color": "black"},
   "encoding": {
    "x": {"field": "t", "type": "temporal", "scale": {"domain": ["2009-07-01", "2010-08-04"]}, "axis": {"title": null, "labels": false, "ticks": true, "domain": true, "tickCount": {"interval": "month", "step": 1}}},
    "y": {"field": "v", "type": "quantitative", "scale": {"domain": [0, 1.2]}, "axis": {"orient": "right", "title": null, "values": [0,0.2,0.4,0.6,0.8,1.0,1.2], "format": ".1f"}},
    "strokeDash": {"field": "k", "type": "nominal", "scale": {"domain": ["Tekran GOM","SS Dry Dep","Modeled Dry Dep","PS GOM Uptake"], "range": [[1,0],[1,0],[3,4.5],[13,6]]}, "legend": {"title": null, "orient": "top-left", "offset": 7, "padding": 12, "strokeColor": "#222", "fillColor": "white", "labelFontSize": 16, "labelColor": "black", "rowPadding": 4, "symbolSize": 196, "symbolType": "M-1.6,0H6.26", "labelOffset": 47, "symbolStrokeColor": "black"}},
    "strokeWidth": {"field": "k", "type": "nominal", "scale": {"type": "ordinal", "domain": ["Tekran GOM","SS Dry Dep","Modeled Dry Dep","PS GOM Uptake"], "range": [1.1,3.2,3,3.2]}, "legend": {"title": null, "orient": "top-left", "offset": 7, "padding": 12, "strokeColor": "#222", "fillColor": "white", "labelFontSize": 16, "labelColor": "black", "rowPadding": 4, "symbolSize": 196, "symbolType": "M-1.6,0H6.26", "labelOffset": 47, "symbolStrokeColor": "black"}},
    "detail": {"field": "g", "type": "nominal"}
   }},
  {"data": {"name": "labels"},
   "transform": [{"filter": "datum.s === 'OLF' && datum.kind === 'site'"}],
   "mark": {"type": "text", "align": "right", "baseline": "alphabetic", "fontSize": 22, "color": "black"},
   "encoding": {
    "x": {"field": "t", "type": "temporal", "scale": {"domain": ["2009-07-01", "2010-08-04"]}, "axis": {"title": null, "labels": false, "ticks": true, "domain": true, "tickCount": {"interval": "month", "step": 1}}},
    "y": {"field": "v", "type": "quantitative", "scale": {"domain": [0, 14]}, "axis": null},
    "text": {"field": "txt"}
   }},
  {"data": {"name": "arrows"},
   "transform": [{"filter": "datum.s === 'OLF'"}],
   "mark": {"type": "rule", "strokeCap": "round", "strokeWidth": 4.5},
   "encoding": {
    "x": {"field": "t", "type": "temporal", "scale": {"domain": ["2009-07-01", "2010-08-04"]}, "axis": {"title": null, "labels": false, "ticks": true, "domain": true, "tickCount": {"interval": "month", "step": 1}}},
    "x2": {"field": "t2"},
    "y": {"field": "v", "type": "quantitative", "scale": {"domain": [0, 14]}, "axis": null},
    "y2": {"field": "v2"},
    "color": {"field": "side", "type": "nominal", "scale": {"domain": ["left", "right"], "range": ["#5B8DD6", "#FF0000"]}, "legend": null}
   }}
 ]
},
{
 "width": 587, "height": 421,
 "resolve": {"scale": {"y": "independent"}},
 "layer": [
  {"data": {"name": "series"},
   "transform": [{"filter": "datum.s === 'TPA' && datum.k === 'Tekran GOM'"}],
   "mark": {"type": "line", "color": "black"},
   "encoding": {
    "x": {"field": "t", "type": "temporal", "scale": {"domain": ["2009-07-01", "2010-09-01"]}, "axis": {"title": null, "labels": false, "ticks": true, "domain": true, "tickCount": {"interval": "month", "step": 1}}},
    "y": {"field": "v", "type": "quantitative", "scale": {"domain": [0, 18]}, "axis": {"orient": "left", "title": null, "values": [0,2,4,6,8,10,12,14,16,18], "format": "d"}},
    "strokeDash": {"field": "k", "type": "nominal", "scale": {"domain": ["Tekran GOM","SS Dry Dep","Modeled Dry Dep","PS GOM Uptake"], "range": [[1,0],[1,0],[3,4.5],[13,6]]}, "legend": {"title": null, "orient": "top-left", "offset": 7, "padding": 12, "strokeColor": "#222", "fillColor": "white", "labelFontSize": 16, "labelColor": "black", "rowPadding": 4, "symbolSize": 196, "symbolType": "M-1.6,0H6.26", "labelOffset": 47, "symbolStrokeColor": "black"}},
    "strokeWidth": {"field": "k", "type": "nominal", "scale": {"type": "ordinal", "domain": ["Tekran GOM","SS Dry Dep","Modeled Dry Dep","PS GOM Uptake"], "range": [1.1,3.2,3,3.2]}, "legend": {"title": null, "orient": "top-left", "offset": 7, "padding": 12, "strokeColor": "#222", "fillColor": "white", "labelFontSize": 16, "labelColor": "black", "rowPadding": 4, "symbolSize": 196, "symbolType": "M-1.6,0H6.26", "labelOffset": 47, "symbolStrokeColor": "black"}},
    "detail": {"field": "g", "type": "nominal"}
   }},
  {"data": {"name": "series"},
   "transform": [{"filter": "datum.s === 'TPA' && datum.k !== 'Tekran GOM'"}],
   "mark": {"type": "line", "color": "black"},
   "encoding": {
    "x": {"field": "t", "type": "temporal", "scale": {"domain": ["2009-07-01", "2010-09-01"]}, "axis": {"title": null, "labels": false, "ticks": true, "domain": true, "tickCount": {"interval": "month", "step": 1}}},
    "y": {"field": "v", "type": "quantitative", "scale": {"domain": [0, 1.4]}, "axis": {"orient": "right", "title": ["SS & Modeled Dry deposition rate (ng m⁻² h⁻¹)", "PS GOM Uptake Rate (pg h⁻¹)"], "titleAngle": 270, "titleFontSize": 17, "titleLineHeight": 19, "titlePadding": 18, "values": [0,0.2,0.4,0.6,0.8,1.0,1.2,1.4], "format": ".1f"}},
    "strokeDash": {"field": "k", "type": "nominal", "scale": {"domain": ["Tekran GOM","SS Dry Dep","Modeled Dry Dep","PS GOM Uptake"], "range": [[1,0],[1,0],[3,4.5],[13,6]]}, "legend": {"title": null, "orient": "top-left", "offset": 7, "padding": 12, "strokeColor": "#222", "fillColor": "white", "labelFontSize": 16, "labelColor": "black", "rowPadding": 4, "symbolSize": 196, "symbolType": "M-1.6,0H6.26", "labelOffset": 47, "symbolStrokeColor": "black"}},
    "strokeWidth": {"field": "k", "type": "nominal", "scale": {"type": "ordinal", "domain": ["Tekran GOM","SS Dry Dep","Modeled Dry Dep","PS GOM Uptake"], "range": [1.1,3.2,3,3.2]}, "legend": {"title": null, "orient": "top-left", "offset": 7, "padding": 12, "strokeColor": "#222", "fillColor": "white", "labelFontSize": 16, "labelColor": "black", "rowPadding": 4, "symbolSize": 196, "symbolType": "M-1.6,0H6.26", "labelOffset": 47, "symbolStrokeColor": "black"}},
    "detail": {"field": "g", "type": "nominal"}
   }},
  {"data": {"name": "labels"},
   "transform": [{"filter": "datum.s === 'TPA' && datum.kind === 'site'"}],
   "mark": {"type": "text", "align": "right", "baseline": "alphabetic", "fontSize": 22, "color": "black"},
   "encoding": {
    "x": {"field": "t", "type": "temporal", "scale": {"domain": ["2009-07-01", "2010-09-01"]}, "axis": {"title": null, "labels": false, "ticks": true, "domain": true, "tickCount": {"interval": "month", "step": 1}}},
    "y": {"field": "v", "type": "quantitative", "scale": {"domain": [0, 18]}, "axis": null},
    "text": {"field": "txt"}
   }},
  {"data": {"name": "arrows"},
   "transform": [{"filter": "datum.s === 'TPA'"}],
   "mark": {"type": "rule", "strokeCap": "round", "strokeWidth": 4.5},
   "encoding": {
    "x": {"field": "t", "type": "temporal", "scale": {"domain": ["2009-07-01", "2010-09-01"]}, "axis": {"title": null, "labels": false, "ticks": true, "domain": true, "tickCount": {"interval": "month", "step": 1}}},
    "x2": {"field": "t2"},
    "y": {"field": "v", "type": "quantitative", "scale": {"domain": [0, 18]}, "axis": null},
    "y2": {"field": "v2"},
    "color": {"field": "side", "type": "nominal", "scale": {"domain": ["left", "right"], "range": ["#5B8DD6", "#FF0000"]}, "legend": null}
   }}
 ]
},
{
 "width": 587, "height": 421,
 "resolve": {"scale": {"y": "independent"}},
 "layer": [
  {"data": {"name": "series"},
   "transform": [{"filter": "datum.s === 'DVE' && datum.k === 'Tekran GOM'"}],
   "mark": {"type": "line", "color": "black"},
   "encoding": {
    "x": {"field": "t", "type": "temporal", "scale": {"domain": ["2009-07-01", "2010-09-01"]}, "axis": {"title": null, "format": "%m/%y", "labelAngle": 270, "labelFontSize": 14, "labelPadding": 11, "tickCount": {"interval": "month", "step": 1}}},
    "y": {"field": "v", "type": "quantitative", "scale": {"domain": [0, 30]}, "axis": {"orient": "left", "title": null, "values": [0,5,10,15,20,25,30], "format": "d"}},
    "strokeDash": {"field": "k", "type": "nominal", "scale": {"domain": ["Tekran GOM","SS Dry Dep","Modeled Dry Dep","PS GOM Uptake"], "range": [[1,0],[1,0],[3,4.5],[13,6]]}, "legend": {"title": null, "orient": "top-left", "offset": 7, "padding": 12, "strokeColor": "#222", "fillColor": "white", "labelFontSize": 16, "labelColor": "black", "rowPadding": 4, "symbolSize": 196, "symbolType": "M-1.6,0H6.26", "labelOffset": 47, "symbolStrokeColor": "black"}},
    "strokeWidth": {"field": "k", "type": "nominal", "scale": {"type": "ordinal", "domain": ["Tekran GOM","SS Dry Dep","Modeled Dry Dep","PS GOM Uptake"], "range": [1.1,3.2,3,3.2]}, "legend": {"title": null, "orient": "top-left", "offset": 7, "padding": 12, "strokeColor": "#222", "fillColor": "white", "labelFontSize": 16, "labelColor": "black", "rowPadding": 4, "symbolSize": 196, "symbolType": "M-1.6,0H6.26", "labelOffset": 47, "symbolStrokeColor": "black"}},
    "detail": {"field": "g", "type": "nominal"}
   }},
  {"data": {"name": "series"},
   "transform": [{"filter": "datum.s === 'DVE' && datum.k !== 'Tekran GOM'"}],
   "mark": {"type": "line", "color": "black"},
   "encoding": {
    "x": {"field": "t", "type": "temporal", "scale": {"domain": ["2009-07-01", "2010-09-01"]}, "axis": {"title": null, "format": "%m/%y", "labelAngle": 270, "labelFontSize": 14, "labelPadding": 11, "tickCount": {"interval": "month", "step": 1}}},
    "y": {"field": "v", "type": "quantitative", "scale": {"domain": [0, 1.6]}, "axis": {"orient": "right", "title": null, "values": [0,0.2,0.4,0.6,0.8,1.0,1.2,1.4,1.6], "format": ".1f"}},
    "strokeDash": {"field": "k", "type": "nominal", "scale": {"domain": ["Tekran GOM","SS Dry Dep","Modeled Dry Dep","PS GOM Uptake"], "range": [[1,0],[1,0],[3,4.5],[13,6]]}, "legend": {"title": null, "orient": "top-left", "offset": 7, "padding": 12, "strokeColor": "#222", "fillColor": "white", "labelFontSize": 16, "labelColor": "black", "rowPadding": 4, "symbolSize": 196, "symbolType": "M-1.6,0H6.26", "labelOffset": 47, "symbolStrokeColor": "black"}},
    "strokeWidth": {"field": "k", "type": "nominal", "scale": {"type": "ordinal", "domain": ["Tekran GOM","SS Dry Dep","Modeled Dry Dep","PS GOM Uptake"], "range": [1.1,3.2,3,3.2]}, "legend": {"title": null, "orient": "top-left", "offset": 7, "padding": 12, "strokeColor": "#222", "fillColor": "white", "labelFontSize": 16, "labelColor": "black", "rowPadding": 4, "symbolSize": 196, "symbolType": "M-1.6,0H6.26", "labelOffset": 47, "symbolStrokeColor": "black"}},
    "detail": {"field": "g", "type": "nominal"}
   }},
  {"data": {"name": "labels"},
   "transform": [{"filter": "datum.s === 'DVE' && datum.kind === 'site'"}],
   "mark": {"type": "text", "align": "right", "baseline": "alphabetic", "fontSize": 22, "color": "black"},
   "encoding": {
    "x": {"field": "t", "type": "temporal", "scale": {"domain": ["2009-07-01", "2010-09-01"]}, "axis": {"title": null, "format": "%m/%y", "labelAngle": 270, "labelFontSize": 14, "labelPadding": 11, "tickCount": {"interval": "month", "step": 1}}},
    "y": {"field": "v", "type": "quantitative", "scale": {"domain": [0, 30]}, "axis": null},
    "text": {"field": "txt"}
   }},
  {"data": {"name": "arrows"},
   "transform": [{"filter": "datum.s === 'DVE'"}],
   "mark": {"type": "rule", "strokeCap": "round", "strokeWidth": 4.5},
   "encoding": {
    "x": {"field": "t", "type": "temporal", "scale": {"domain": ["2009-07-01", "2010-09-01"]}, "axis": {"title": null, "format": "%m/%y", "labelAngle": 270, "labelFontSize": 14, "labelPadding": 11, "tickCount": {"interval": "month", "step": 1}}},
    "x2": {"field": "t2"},
    "y": {"field": "v", "type": "quantitative", "scale": {"domain": [0, 30]}, "axis": null},
    "y2": {"field": "v2"},
    "color": {"field": "side", "type": "nominal", "scale": {"domain": ["left", "right"], "range": ["#5B8DD6", "#FF0000"]}, "legend": null}
   }},
  {"data": {"name": "labels"},
   "transform": [{"filter": "datum.kind === 'mark'"}],
   "mark": {"type": "text", "align": "center", "baseline": "alphabetic", "font": "Lato", "fontSize": 29.7, "color": "#8a8a8a", "opacity": 0.9},
   "encoding": {
    "x": {"field": "t", "type": "temporal", "scale": {"domain": ["2009-07-01", "2010-09-01"]}, "axis": {"title": null, "format": "%m/%y", "labelAngle": 270, "labelFontSize": 14, "labelPadding": 11, "tickCount": {"interval": "month", "step": 1}}},
    "y": {"field": "v", "type": "quantitative", "scale": {"domain": [0, 30]}, "axis": null},
    "text": {"field": "txt"}
   }}
 ]
}
]
}
